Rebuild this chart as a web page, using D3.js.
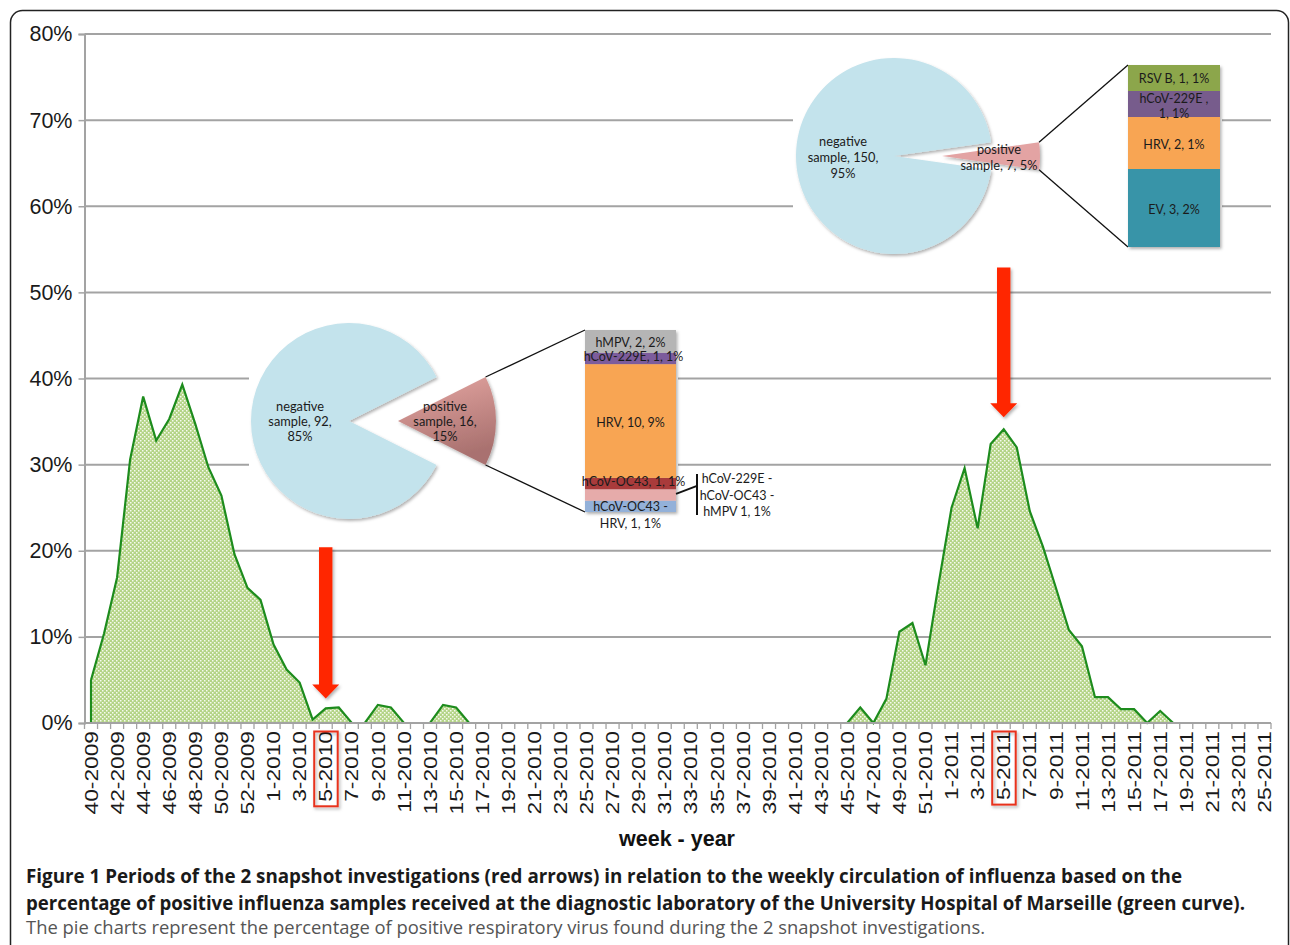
<!DOCTYPE html>
<html><head><meta charset="utf-8">
<script src="https://cdn.jsdelivr.net/npm/d3@7"></script>
<style>body{margin:0;background:#fff;} svg{display:block}</style>
</head><body><svg id="c" width="1290" height="945"></svg>
<script>
// ---------- DATA ----------
const weeks = [
 "40-2009","41-2009","42-2009","43-2009","44-2009","45-2009","46-2009","47-2009","48-2009","49-2009","50-2009","51-2009","52-2009","53-2009",
 "1-2010","2-2010","3-2010","4-2010","5-2010","6-2010","7-2010","8-2010","9-2010","10-2010","11-2010","12-2010","13-2010","14-2010","15-2010","16-2010",
 "17-2010","18-2010","19-2010","20-2010","21-2010","22-2010","23-2010","24-2010","25-2010","26-2010","27-2010","28-2010","29-2010","30-2010",
 "31-2010","32-2010","33-2010","34-2010","35-2010","36-2010","37-2010","38-2010","39-2010","40-2010","41-2010","42-2010","43-2010","44-2010",
 "45-2010","46-2010","47-2010","48-2010","49-2010","50-2010","51-2010","52-2010",
 "1-2011","2-2011","3-2011","4-2011","5-2011","6-2011","7-2011","8-2011","9-2011","10-2011","11-2011","12-2011","13-2011","14-2011","15-2011",
 "16-2011","17-2011","18-2011","19-2011","20-2011","21-2011","22-2011","23-2011","24-2011","25-2011"
];
const influenzaPct = [
 5.0, 10.4, 16.9, 30.6, 37.9, 32.8, 35.3, 39.3, 34.7, 29.7, 26.4, 19.6, 15.7, 14.3,
 9.1, 6.2, 4.7, 0.4, 1.7, 1.8, 0, 0, 2.1, 1.8, 0, 0, 0, 2.1, 1.8, 0,
 0, 0, 0, 0, 0, 0, 0, 0, 0, 0, 0, 0, 0, 0,
 0, 0, 0, 0, 0, 0, 0, 0, 0, 0, 0, 0, 0, 0,
 0, 1.8, 0, 2.8, 10.6, 11.6, 6.7, 16.1,
 25.0, 29.6, 22.6, 32.4, 34.1, 32.0, 24.6, 20.5, 15.7, 10.8, 8.9, 3.0, 3.0, 1.6, 1.6,
 0, 1.4, 0, 0, 0, 0, 0, 0, 0, 0
];
const yTicks = [0, 10, 20, 30, 40, 50, 60, 70, 80];

// snapshot arrows (week, top value %, tip value %)
const snapshotWeeks = ["5-2010", "5-2011"];
const arrowTopPct = [20.4, 52.9];
const arrowTipPct = [2.85, 35.5];

// pie charts: [positive, negative]
const pie1Values = [16, 92];
const pie1Labels = [["positive","sample, 16,","15%"], ["negative","sample, 92,","85%"]];
const pie2Values = [7, 150];
const pie2Labels = [["positive","sample, 7, 5%"], ["negative","sample, 150,","95%"]];

// stacked "bar of pie" breakdowns (bottom to top)
const bar1Viruses = ["hCoV-OC43 - HRV", "hCoV-229E - hCoV-OC43 - hMPV", "hCoV-OC43", "HRV", "hCoV-229E", "hMPV"];
const bar1Counts = [1, 1, 1, 10, 1, 2];
const bar1Colors = ["#93b1d9", "#e6abaa", "#a93b3a", "#f8a553", "#7c5b9c", "#b5b5b5"];
const bar1Labels = [["hCoV-OC43 -","HRV, 1, 1%"], null, ["hCoV-OC43, 1, 1%"], ["HRV, 10, 9%"], ["hCoV-229E, 1, 1%"], ["hMPV, 2, 2%"]];
const bar1OutsideLabel = ["hCoV-229E -", "hCoV-OC43 -", "hMPV 1, 1%"];

const bar2Viruses = ["EV", "HRV", "hCoV-229E", "RSV B"];
const bar2Counts = [3, 2, 1, 1];
const bar2Colors = ["#3994a8", "#f8a553", "#775b8c", "#8ca64c"];
const bar2Labels = [["EV, 3, 2%"], ["HRV, 2, 1%"], ["hCoV-229E ,","1, 1%"], ["RSV B, 1, 1%"]];

const captionLines = [
 "Figure 1 Periods of the 2 snapshot investigations (red arrows) in relation to the weekly circulation of influenza based on the",
 "percentage of positive influenza samples received at the diagnostic laboratory of the University Hospital of Marseille (green curve).",
 "The pie charts represent the percentage of positive respiratory virus found during the 2 snapshot investigations."
];

// ---------- LAYOUT ----------
const svg = d3.select("#c");
const plot = {left: 84.5, right: 1271, top: 34, bottom: 723};
const x = d3.scaleBand().domain(weeks).range([plot.left, plot.right]).paddingInner(0).paddingOuter(0);
const xc = w => x(w) + x.bandwidth() / 2;
const y = d3.scaleLinear().domain([0, 80]).range([plot.bottom, plot.top]);

const defs = svg.append("defs");
const pat = defs.append("pattern").attr("id","hatch").attr("patternUnits","userSpaceOnUse")
  .attr("width",4).attr("height",4);
pat.append("rect").attr("width",4).attr("height",4).attr("fill","#b4d487");
pat.append("rect").attr("x",0).attr("y",0).attr("width",1.5).attr("height",1.5).attr("fill","#f6faf0");
pat.append("rect").attr("x",2).attr("y",2).attr("width",1.5).attr("height",1.5).attr("fill","#f6faf0");
const grad = defs.append("linearGradient").attr("id","posGrad").attr("x1",0).attr("y1",0).attr("x2",0.3).attr("y2",1);
grad.append("stop").attr("offset","0%").attr("stop-color","#e6a7a3");
grad.append("stop").attr("offset","100%").attr("stop-color","#a9716f");
const sh = defs.append("filter").attr("id","shadow").attr("x","-20%").attr("y","-20%").attr("width","150%").attr("height","150%");
sh.append("feDropShadow").attr("dx",1.5).attr("dy",2).attr("stdDeviation",1.5).attr("flood-color","#000").attr("flood-opacity",0.3);

svg.append("rect").attr("width",1290).attr("height",945).attr("fill","#fff");

// frame
svg.append("rect").attr("x",10.5).attr("y",10.5).attr("width",1278).attr("height",1000).attr("rx",12)
  .attr("fill","none").attr("stroke","#222").attr("stroke-width",1.5);

// gridlines
svg.append("g").selectAll("line").data(yTicks).join("line")
  .attr("x1", plot.left).attr("x2", plot.right).attr("y1", d=>y(d)).attr("y2", d=>y(d))
  .attr("stroke","#a3a3a3").attr("stroke-width",2);

// y axis
const yAxis = d3.axisLeft(y).tickValues(yTicks).tickFormat(d => d + "%").tickSize(6).tickPadding(6);
const gy = svg.append("g").attr("transform",`translate(${plot.left},0)`).call(yAxis);
gy.select(".domain").attr("stroke","#a3a3a3").attr("stroke-width",2);
gy.selectAll(".tick line").attr("stroke","#a3a3a3").attr("stroke-width",1.5);
gy.selectAll(".tick text").attr("font-family","'Liberation Sans', Arial, sans-serif").attr("font-size",21.5).attr("fill","#1a1a1a");

// area
const area = d3.area().x(w => xc(w)).y0(y(0)).y1((w,i) => y(influenzaPct[i])).curve(d3.curveLinear);
const line = d3.line().x(w => xc(w)).y((w,i) => y(influenzaPct[i]));
svg.append("path").datum(weeks).attr("d", area).attr("fill","url(#hatch)");
svg.append("path").datum(weeks).attr("d", line).attr("fill","none").attr("stroke","#1d8c1d").attr("stroke-width",2.2).attr("stroke-linejoin","miter");
svg.append("line").attr("x1",xc(weeks[0])).attr("x2",xc(weeks[0])).attr("y1",y(0)).attr("y2",y(influenzaPct[0]))
  .attr("stroke","#1d8c1d").attr("stroke-width",2.2);

// x axis line + ticks at category boundaries
svg.append("line").attr("x1",plot.left).attr("x2",plot.right).attr("y1",y(0)).attr("y2",y(0))
  .attr("stroke","#a3a3a3").attr("stroke-width",2);
svg.append("g").selectAll("line").data(weeks.map(w=>x(w)).concat([plot.right])).join("line")
  .attr("x1",d=>d).attr("x2",d=>d).attr("y1",y(0)).attr("y2",y(0)+6)
  .attr("stroke","#a3a3a3").attr("stroke-width",1.3);

// x tick labels (every other week), stretched like the original
const sx = 1.23;
const xl = svg.append("g").selectAll("text").data(weeks.filter((w,i)=>i%2===0)).join("text")
  .attr("transform", w => `translate(${xc(w)},731) rotate(-90) scale(${sx},1)`)
  .attr("text-anchor","end").attr("dy","0.36em")
  .attr("font-family","'Liberation Sans', Arial, sans-serif").attr("font-size",18.5).attr("fill","#1a1a1a")
  .text(w => w);
xl.filter(w => snapshotWeeks.includes(w)).each(function(w){
  const len = this.getComputedTextLength() * sx;
  svg.append("rect").attr("x", xc(w) - 11.5).attr("y", 731.5).attr("width", 23.5).attr("height", len + 4)
    .attr("fill","none").attr("stroke","#e8331f").attr("stroke-width",2).attr("filter","url(#shadow)");
});

// axis title
svg.append("text").attr("x",677).attr("y",846).attr("text-anchor","middle")
  .attr("font-family","'Liberation Sans', Arial, sans-serif").attr("font-weight","bold").attr("font-size",21.5).attr("fill","#111")
  .text("week - year");

// ---------- PIES + BARS ----------
const lblFont = "Lato, 'Open Sans', sans-serif";
function drawPieBar(cfg){
  const g = svg.append("g");
  g.append("rect").attr("x",cfg.bg[0]).attr("y",cfg.bg[1]).attr("width",cfg.bg[2]).attr("height",cfg.bg[3]).attr("fill","#fff");
  const total = d3.sum(cfg.values);
  const frac = cfg.values[0] / total;
  const start = Math.PI/2 - frac*Math.PI;
  const arcs = d3.pie().sort(null).startAngle(start).endAngle(start + 2*Math.PI)(cfg.values);
  const arc = d3.arc().innerRadius(0).outerRadius(cfg.r);
  g.append("path").attr("d", arc(arcs[1])).attr("transform",`translate(${cfg.cx},${cfg.cy})`)
    .attr("fill","#c3e3ec").attr("filter","url(#shadow)");
  const px = cfg.cx + cfg.explode, py = cfg.cy;
  g.append("path").attr("d", arc(arcs[0])).attr("transform",`translate(${px},${py})`)
    .attr("fill", cfg.posFill).attr("filter","url(#shadow)");
  const a0 = arcs[0].startAngle, a1 = arcs[0].endAngle;
  const c0 = [px + cfg.r*Math.sin(a0), py - cfg.r*Math.cos(a0)];
  const c1 = [px + cfg.r*Math.sin(a1), py - cfg.r*Math.cos(a1)];
  const by = d3.scaleLinear().domain([0, d3.sum(cfg.counts)]).range([cfg.bar.bottom, cfg.bar.top]);
  const cum = d3.cumsum(cfg.counts);
  g.append("line").attr("x1",c0[0]).attr("y1",c0[1]).attr("x2",cfg.bar.x0).attr("y2",cfg.bar.top).attr("stroke","#111").attr("stroke-width",1.3);
  g.append("line").attr("x1",c1[0]).attr("y1",c1[1]).attr("x2",cfg.bar.x0).attr("y2",cfg.bar.bottom).attr("stroke","#111").attr("stroke-width",1.3);
  const bg = g.append("g").attr("filter","url(#shadow)");
  bg.selectAll("rect").data(cfg.counts).join("rect")
    .attr("x", cfg.bar.x0).attr("width", cfg.bar.x1 - cfg.bar.x0)
    .attr("y", (d,i) => by(cum[i])).attr("height", (d,i) => by(cum[i]-d) - by(cum[i]))
    .attr("fill", (d,i) => cfg.colors[i]);
  const bcx = (cfg.bar.x0 + cfg.bar.x1)/2;
  cfg.labels.forEach((lines,i) => {
    if(!lines) return;
    const mid = (by(cum[i]) + by(cum[i]-cfg.counts[i]))/2;
    const off = cfg.labelOffsets && cfg.labelOffsets[i] != null ? cfg.labelOffsets[i] : -(lines.length-1)*cfg.lh/2;
    lines.forEach((t,k) => {
      g.append("text").attr("x", bcx + (cfg.labelDx ? cfg.labelDx[i] : 0)).attr("y", mid + off + k*cfg.lh).attr("dy","0.35em")
        .attr("text-anchor","middle").attr("font-family",lblFont).attr("font-size",cfg.fs).attr("fill","#1b1b1b").text(t);
    });
  });
  [0,1].forEach(j => {
    const L = cfg.pieLabels[j], pos = cfg.pieLabelPos[j];
    L.forEach((t,k) => {
      g.append("text").attr("x",pos[0]).attr("y",pos[1] + (k-(L.length-1)/2)*cfg.plh).attr("dy","0.35em")
        .attr("text-anchor","middle").attr("font-family",lblFont).attr("font-size",cfg.pfs).attr("fill","#1b1b1b").text(t);
    });
  });
  return {g, by, cum};
}

const p1 = drawPieBar({
  bg:[249, 321, 429, 208], cx:349, cy:421, r:98, explode:49, values:pie1Values, posFill:"url(#posGrad)",
  bar:{x0:585, x1:676, top:330, bottom:512}, counts:bar1Counts, colors:bar1Colors, labels:bar1Labels,
  labelOffsets:[0.8, null, -2, 1.5, -1.5, 1], labelDx:[0,0,3,0,3,0], lh:17, fs:12.5,
  pieLabels:pie1Labels, pieLabelPos:[[445,421.5],[300,421.5]], plh:15.3, pfs:12.8
});
{
  const mid = (p1.by(p1.cum[1]) + p1.by(p1.cum[0]))/2;
  p1.g.append("line").attr("x1",676).attr("y1",mid-1).attr("x2",697).attr("y2",mid-9).attr("stroke","#111").attr("stroke-width",1.8);
  p1.g.append("line").attr("x1",697).attr("y1",mid-21).attr("x2",697).attr("y2",mid+20).attr("stroke","#111").attr("stroke-width",2);
  bar1OutsideLabel.forEach((t,k) => {
    p1.g.append("text").attr("x",737).attr("y",mid - 16 + k*16.3).attr("dy","0.35em").attr("text-anchor","middle")
      .attr("font-family",lblFont).attr("font-size",12.5).attr("fill","#1b1b1b").text(t);
  });
}
drawPieBar({
  bg:[793, 52, 429, 210], cx:894, cy:156, r:98, explode:48, values:pie2Values, posFill:"#e3a3a3",
  bar:{x0:1128, x1:1220, top:65, bottom:247}, counts:bar2Counts, colors:bar2Colors, labels:bar2Labels,
  labelOffsets:[2, 2, -5.5, 1], labelDx:[0,0,0,0], lh:15, fs:12.5,
  pieLabels:pie2Labels, pieLabelPos:[[999,158],[843,158]], plh:16, pfs:12.8
});

// ---------- ARROWS ----------
const arrowG = svg.append("g").attr("filter","url(#shadow)");
snapshotWeeks.forEach((w,i) => {
  const cx = xc(w), top = y(arrowTopPct[i]), tip = y(arrowTipPct[i]);
  const hw = 6.7, hh = 13.5, hl = 14;
  const p = d3.path();
  p.moveTo(cx-hw, top); p.lineTo(cx+hw, top); p.lineTo(cx+hw, tip-hl); p.lineTo(cx+hh, tip-hl);
  p.lineTo(cx, tip); p.lineTo(cx-hh, tip-hl); p.lineTo(cx-hw, tip-hl); p.closePath();
  arrowG.append("path").attr("d", p.toString()).attr("fill","#ff2600");
});

// ---------- CAPTION ----------
const capW = [1156, 1219, 959];
const capY = [883, 910, 934];
captionLines.forEach((t,i) => {
  svg.append("text").attr("x",26).attr("y",capY[i])
    .attr("font-family","'Open Sans', 'Noto Sans', sans-serif").attr("font-size",19)
    .attr("font-weight", i<2 ? "bold" : "normal").attr("fill", i<2 ? "#1a1a1a" : "#555")
    .attr("textLength", capW[i]).attr("lengthAdjust","spacingAndGlyphs").text(t);
});
</script></body></html>
